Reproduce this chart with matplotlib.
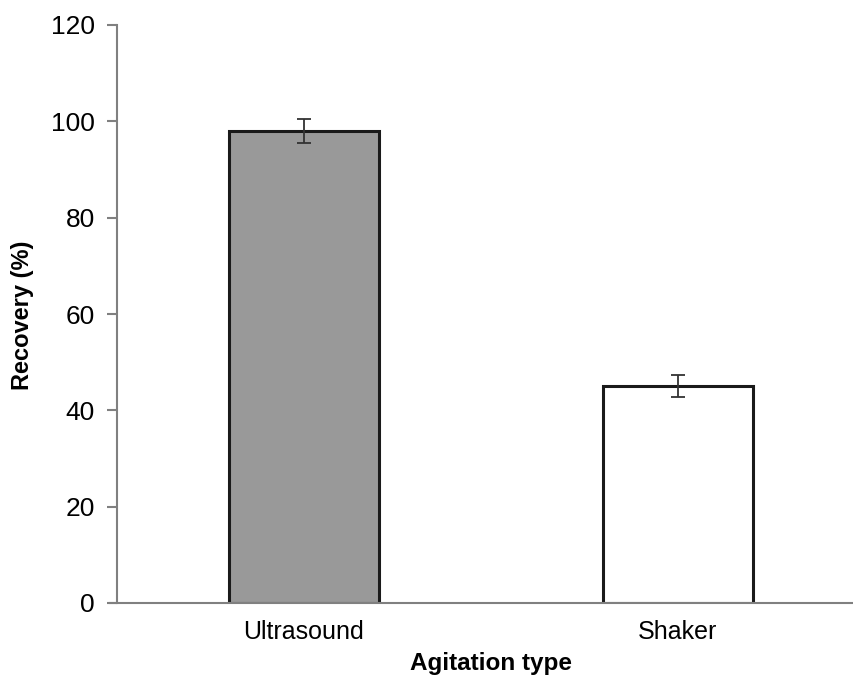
import numpy as np
import matplotlib.pyplot as plt

plt.rcParams['font.family'] = ['Liberation Sans', 'DejaVu Sans']

categories = ['Ultrasound', 'Shaker']
recovery = [98.0, 45.0]
errors = [2.5, 2.3]
colors = ['#999999', '#ffffff']

fig = plt.figure(figsize=(8.54, 6.8), dpi=100)
ax = fig.add_axes([117/854, 77/680, 748/854, 578/680])

x = np.arange(len(categories))
ax.bar(x, recovery, width=0.4, color=colors, edgecolor='#1a1a1a', linewidth=2.2, zorder=2)
ax.errorbar(x, recovery, yerr=errors, fmt='none', ecolor='#333333', elinewidth=1.3,
            capsize=5, capthick=1.3, zorder=3)

ax.set_xlim(-0.5, 1.5)
ax.set_ylim(0, 120)
ax.set_yticks(range(0, 121, 20))
ax.set_xticks(x)
ax.set_xticklabels(categories)

for s in ['top', 'right']:
    ax.spines[s].set_visible(False)
for s in ['left', 'bottom']:
    ax.spines[s].set_color('#808080')
    ax.spines[s].set_linewidth(1.5)
# x axis pokes a little past the y axis, like the original
ax.spines['bottom'].set_bounds(-0.519, 1.5)

ax.tick_params(axis='y', direction='out', length=7, width=1.5, color='#808080',
               labelsize=19, pad=9)
ax.tick_params(axis='x', length=0, labelsize=18, pad=12)

ax.set_ylabel('Recovery (%)', fontsize=17, fontweight='bold')
ax.yaxis.label.set_va('center')
ax.yaxis.set_label_coords(-0.1257, 0.497)
ax.set_xlabel('Agitation type', fontsize=17.5, fontweight='bold')
ax.xaxis.label.set_va('center')
ax.xaxis.set_label_coords(0.5, -0.1055)

fig.savefig('out.png', dpi=100)
